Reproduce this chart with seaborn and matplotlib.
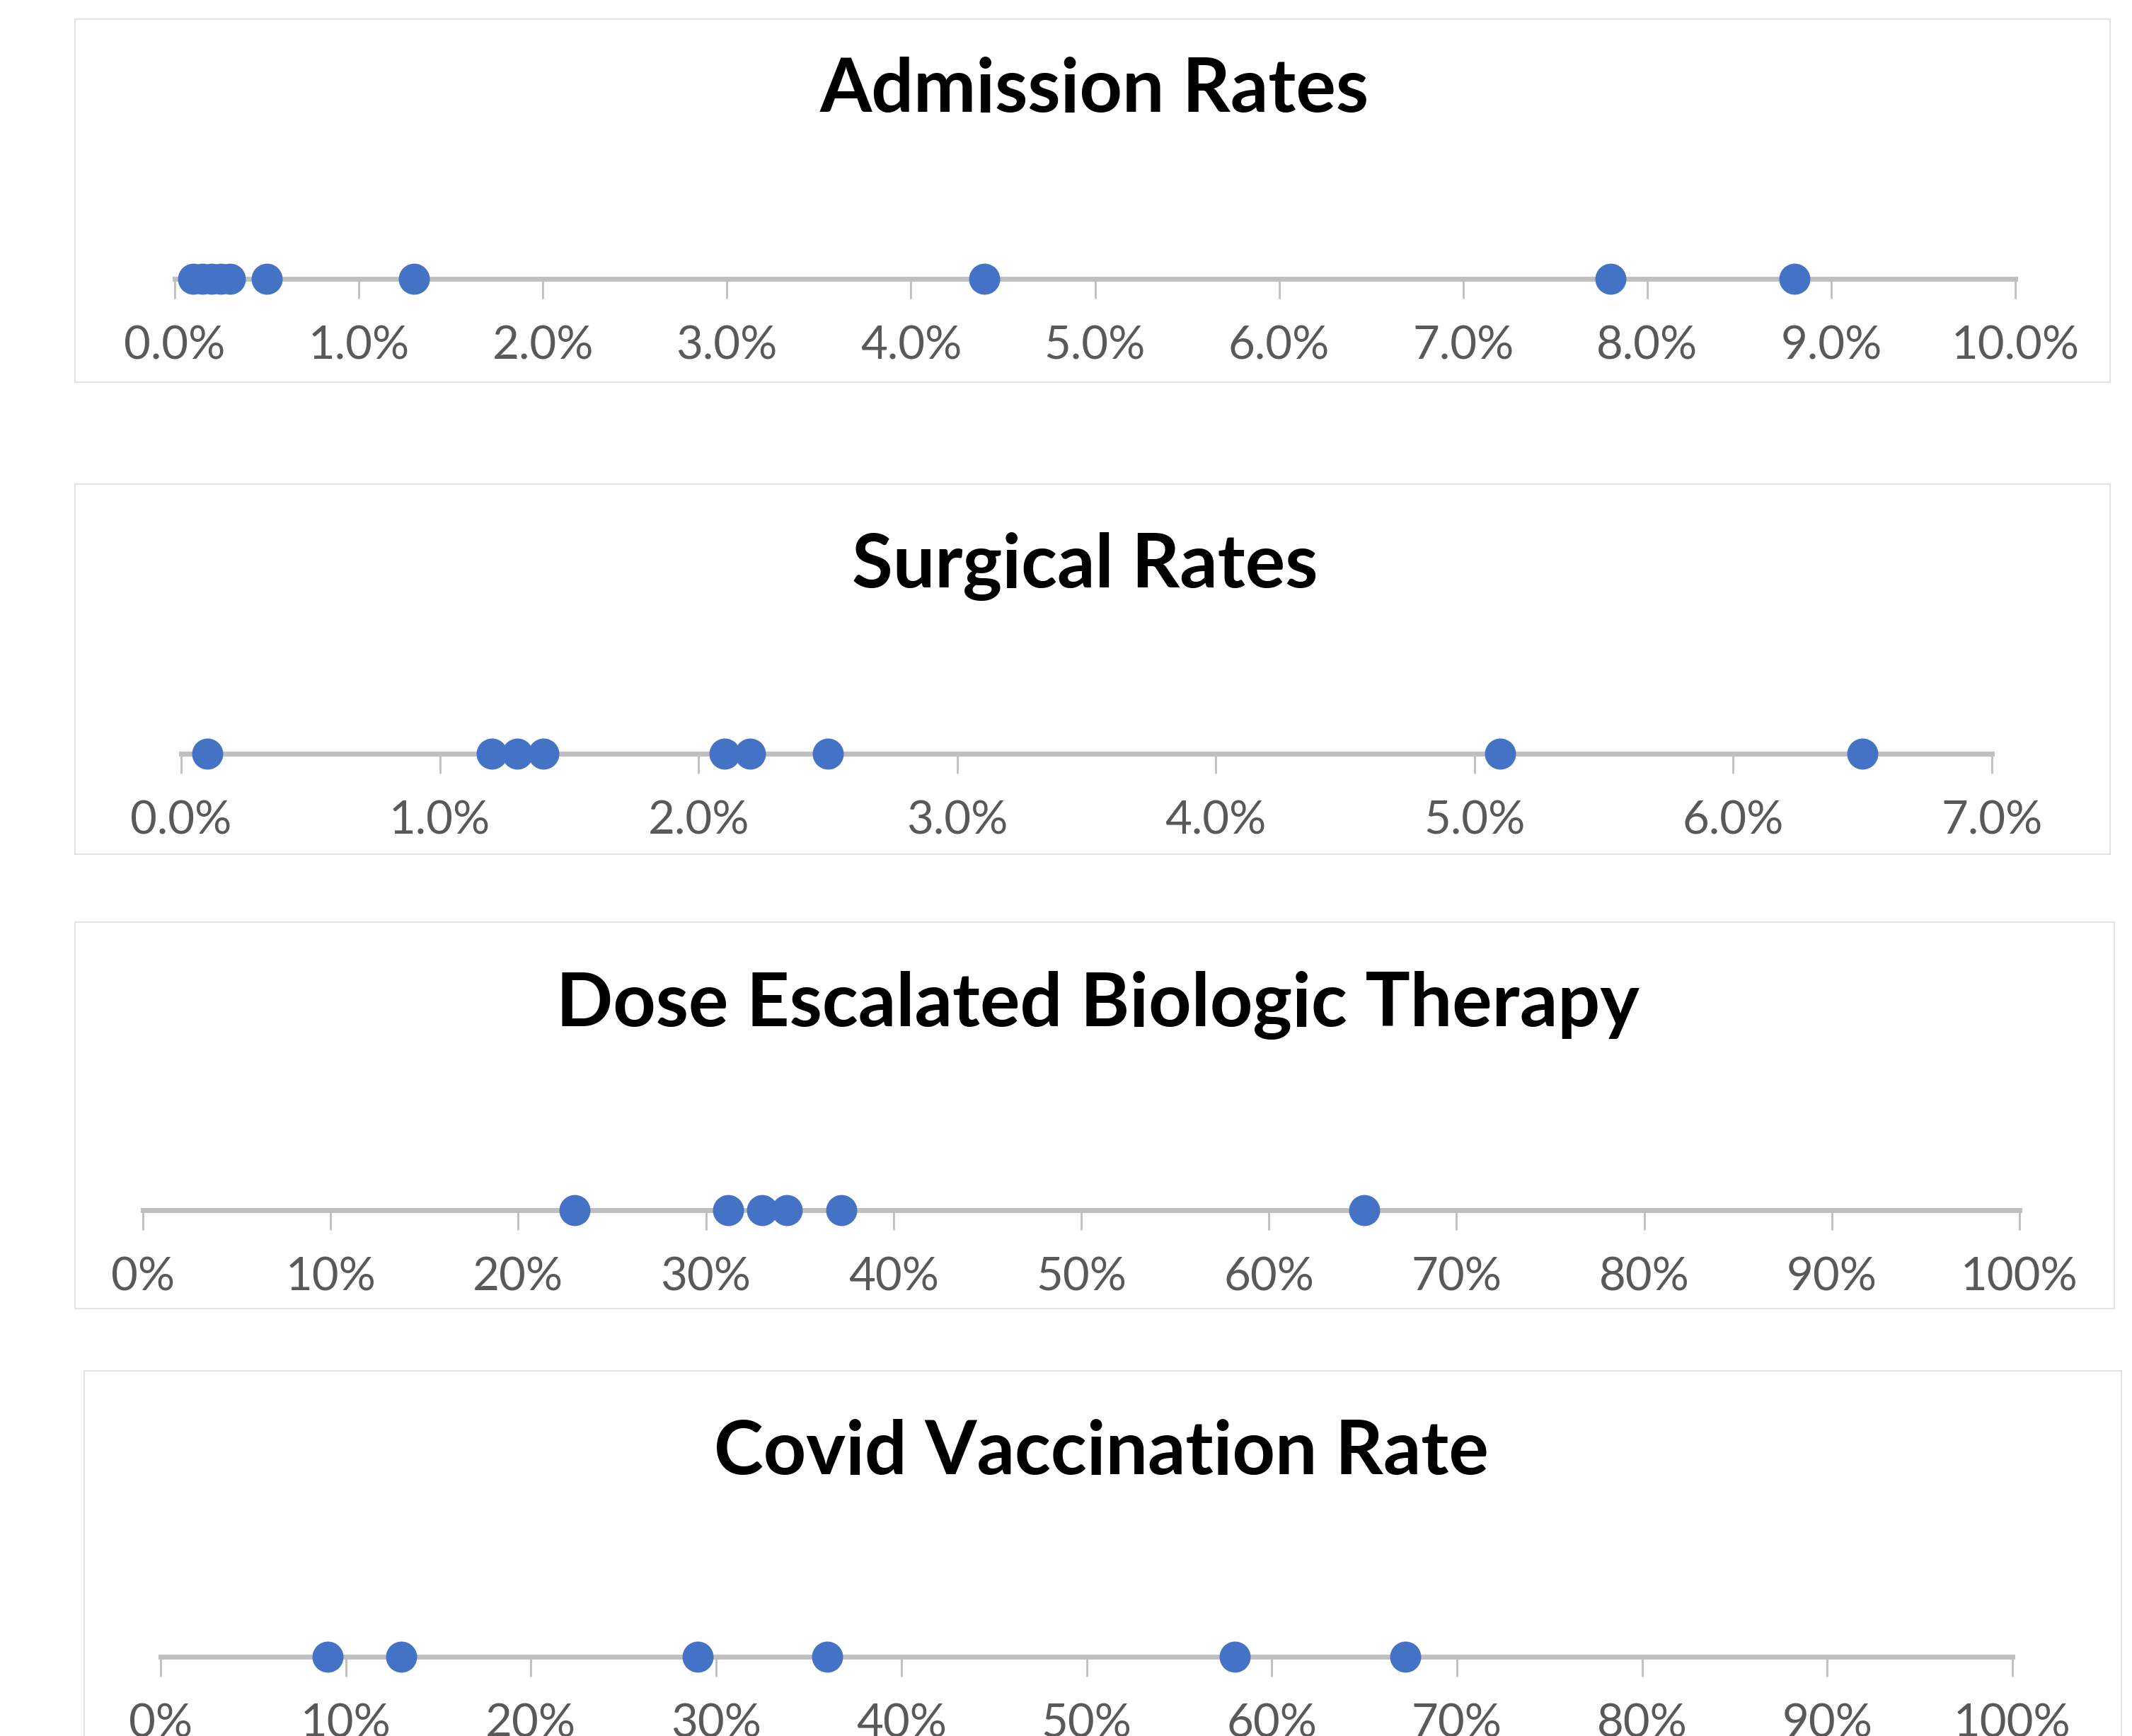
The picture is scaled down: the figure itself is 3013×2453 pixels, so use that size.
"""
Strip plots of IBD clinic rates (admission, surgery, dose escalation, covid vaccination)
"""
import numpy as np
import matplotlib
matplotlib.use("Agg")
import matplotlib.pyplot as plt
from matplotlib.patches import Rectangle
from matplotlib.ticker import FuncFormatter
import seaborn as sns

# values in percent
admission_rates = [0.1, 0.15, 0.2, 0.25, 0.3, 0.5, 1.3, 4.4, 7.8, 8.8]
surgical_rates = [0.1, 1.2, 1.3, 1.4, 2.1, 2.2, 2.5, 5.1, 6.5]
dose_escalated = [23, 31.2, 33, 34.3, 37.2, 65.1]
covid_vaccination = [9, 13, 29, 36, 58, 67.2]

titles = ["Admission Rates", "Surgical Rates",
          "Dose Escalated Biologic Therapy", "Covid Vaccination Rate"]
series = [admission_rates, surgical_rates, dose_escalated, covid_vaccination]
axis_max = [10, 7, 100, 100]
tick_steps = [1, 1, 10, 10]
decimals = [1, 1, 0, 0]

sns.set_style("white")
plt.rcParams['font.family'] = ['Lato', 'DejaVu Sans']

W, H = 3013, 2453
fig = plt.figure(figsize=(W / 100, H / 100), dpi=100)
fig.patch.set_facecolor("white")

# layout in pixels of the original picture
frames = [(106, 27, 2982, 540), (106, 684, 2982, 1207),
          (106, 1303, 2988, 1849), (119, 1937, 2998, 2470)]
axis_spans = [(247, 2848, 394), (256, 2815, 1065),
              (202, 2854, 1710), (227, 2844, 2341)]
title_pos = [(1547, 158), (1533, 830), (1551, 1450), (1556, 2083)]

dot_color = "#4472C4"
line_color = "#BFBFBF"

for i in range(4):
    fx0, fy0, fx1, fy1 = frames[i]
    fig.patches.append(Rectangle((fx0 / W, 1 - fy1 / H), (fx1 - fx0) / W, (fy1 - fy0) / H,
                                 transform=fig.transFigure, fill=False,
                                 edgecolor="#E3E3E3", linewidth=1.5, zorder=0))

    x0, x1, ly = axis_spans[i]
    ax = fig.add_axes([x0 / W, 1 - ly / H, (x1 - x0) / W, 120 / H])
    vals = series[i]
    sns.scatterplot(x=vals, y=np.zeros(len(vals)), ax=ax, color=dot_color,
                    s=1000, linewidth=0, clip_on=False, zorder=5)
    ax.set_xlim(0, axis_max[i])
    ax.set_ylim(0, 1)
    ax.set_xticks(np.arange(0, axis_max[i] + tick_steps[i] / 2, tick_steps[i]))
    d = decimals[i]
    ax.xaxis.set_major_formatter(FuncFormatter(lambda v, p, d=d: f"{v:.{d}f}%"))
    ax.set_yticks([])
    ax.set_xlabel("")
    ax.set_ylabel("")
    for s in ["top", "left", "right"]:
        ax.spines[s].set_visible(False)
    ax.spines["bottom"].set_color(line_color)
    ax.spines["bottom"].set_linewidth(5)
    ax.tick_params(axis="x", direction="out", length=20, width=2, color=line_color,
                   labelsize=47, labelcolor="#595959", pad=27, bottom=True)
    ax.patch.set_alpha(0)

    tx, ty = title_pos[i]
    fig.text(tx / W, 1 - ty / H, titles[i], ha="center", va="baseline",
             fontsize=76, fontweight="bold", color="black")

fig.savefig("out.png", dpi=100, facecolor="white")
